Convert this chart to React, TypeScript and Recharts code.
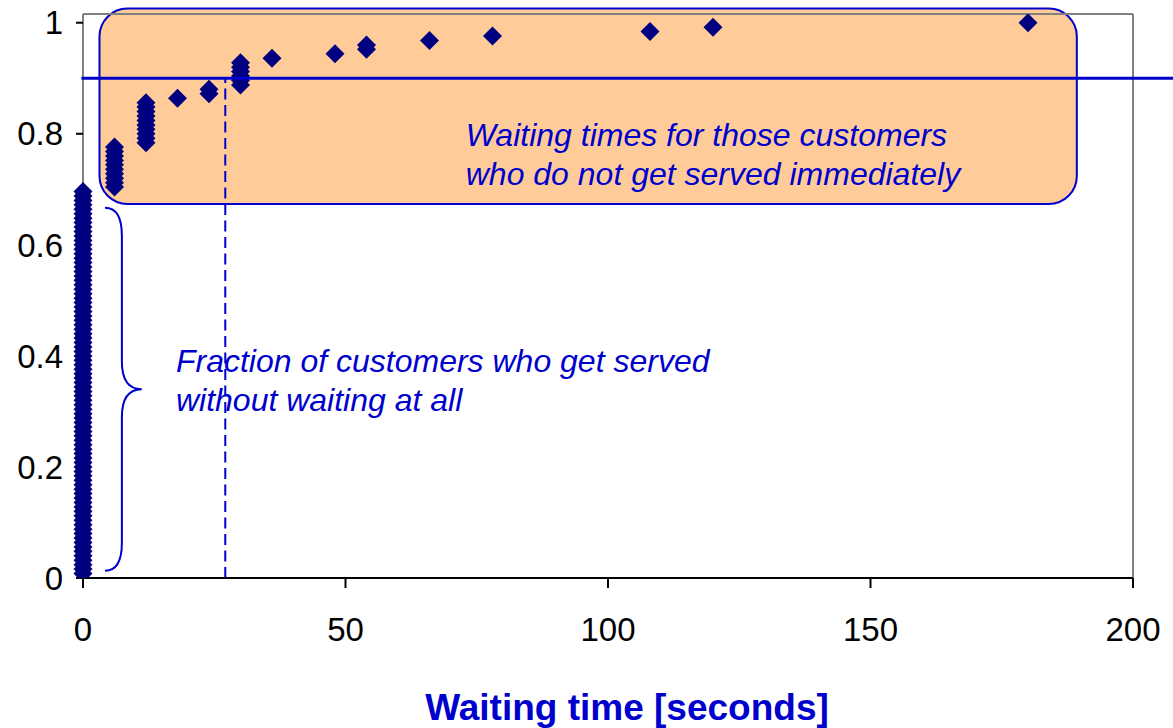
import {
  ScatterChart,
  Scatter,
  XAxis,
  YAxis,
  ReferenceArea,
  ReferenceLine,
  ReferenceDot,
  Label,
} from "recharts";

// waiting time (s) and how many customers waited that long
const waitSeconds = [0, 6, 12, 18, 24, 30, 36, 48, 54, 66, 78, 108, 120, 180];
const customerCounts = [87, 10, 10, 1, 2, 6, 1, 1, 2, 1, 1, 1, 1, 1];

const xTicks = [0, 50, 100, 150, 200];
const yTicks = [0, 0.2, 0.4, 0.6, 0.8, 1];
const Y_MAX = 1.0157;

const serviceLevel = 0.9;
const serviceTime = 27.1;

const BLUE = "#0000CC";
const NAVY = "#000080";
const FONT = "'Liberation Sans', Arial, sans-serif";

// empirical CDF: one diamond per customer, stacked at its waiting time
const totalCustomers = customerCounts.reduce((a, b) => a + b, 0);
const cdfPoints: { x: number; y: number }[] = [];
let served = 0;
waitSeconds.forEach((t, i) => {
  for (let k = 0; k < customerCounts[i]; k++) {
    served += 1;
    cdfPoints.push({ x: t, y: served / totalCustomers });
  }
});

const Diamond = (p: any) => {
  const { cx, cy } = p;
  const r = 9.5;
  return (
    <path
      d={`M${cx},${cy - r}L${cx + r},${cy}L${cx},${cy + r}L${cx - r},${cy}Z`}
      fill={NAVY}
    />
  );
};

const RoundedBox = (p: any) => (
  <rect
    x={p.x}
    y={p.y}
    width={p.width}
    height={p.height}
    rx={28}
    ry={28}
    fill="#FFCC99"
    stroke={BLUE}
    strokeWidth={2}
  />
);

const Brace = (p: any) => {
  const x0 = p.x;
  const x1 = p.x + p.width;
  const xv = x0 + p.width * 0.46;
  const y0 = p.y;
  const y1 = p.y + p.height;
  const ym = (y0 + y1) / 2;
  const r = 28;
  const d = `M${x0},${y0} Q${xv},${y0} ${xv},${y0 + r} L${xv},${ym - r} Q${xv},${ym} ${x1},${ym} Q${xv},${ym} ${xv},${ym + r} L${xv},${y1 - r} Q${xv},${y1} ${x0},${y1}`;
  return <path d={d} fill="none" stroke={BLUE} strokeWidth={2} />;
};

const noteText = (lines: string[]) => (p: any) => (
  <text
    x={p.cx}
    y={p.cy}
    fill={BLUE}
    fontSize={32}
    fontStyle="italic"
    fontFamily={FONT}
  >
    {lines.map((l, i) => (
      <tspan key={i} x={p.cx} dy={i === 0 ? 0 : 39}>
        {l}
      </tspan>
    ))}
  </text>
);

export default function App() {
  return (
    <div
      style={{
        position: "absolute",
        left: 0,
        top: 0,
        width: 1173,
        height: 728,
        background: "#fff",
      }}
    >
      <ScatterChart
        width={1173}
        height={728}
        margin={{ top: 14, right: 40, left: 0, bottom: 0 }}
      >
        <XAxis
          dataKey="x"
          type="number"
          domain={[0, 200]}
          ticks={xTicks}
          height={150}
          tickSize={10}
          tickMargin={30}
          axisLine={{ stroke: "#000", strokeWidth: 2 }}
          tickLine={{ stroke: "#000", strokeWidth: 2 }}
          tick={{ fill: "#000", fontSize: 33, fontFamily: FONT }}
        >
          <Label
            content={(props: any) => {
              const vb = props.viewBox;
              return (
                <text
                  x={vb.x + vb.width / 2 + 19}
                  y={vb.y + vb.height - 8}
                  textAnchor="middle"
                  fill={BLUE}
                  fontSize={37}
                  fontWeight="bold"
                  fontFamily={FONT}
                >
                  Waiting time [seconds]
                </text>
              );
            }}
          />
        </XAxis>
        <YAxis
          dataKey="y"
          type="number"
          domain={[0, Y_MAX]}
          allowDataOverflow
          ticks={yTicks}
          width={83}
          tickSize={7}
          tickMargin={13}
          axisLine={{ stroke: "#808080", strokeWidth: 2 }}
          tickLine={{ stroke: "#000", strokeWidth: 2 }}
          tick={{ fill: "#000", fontSize: 33, fontFamily: FONT }}
        />

        <ReferenceArea
          x1={3.14}
          x2={189.3}
          y1={0.6735}
          y2={1.0256}
          ifOverflow="visible"
          shape={RoundedBox}
          zIndex={100}
        />
        <ReferenceArea
          x1={4.19}
          x2={11.18}
          y1={0.013}
          y2={0.667}
          ifOverflow="visible"
          shape={Brace}
          zIndex={100}
        />
        <ReferenceLine
          y={Y_MAX}
          stroke="#808080"
          strokeWidth={2}
          zIndex={400}
        />
        <ReferenceLine
          x={200}
          stroke="#808080"
          strokeWidth={2}
          zIndex={400}
        />
        <ReferenceLine
          segment={[
            { x: serviceTime, y: 0 },
            { x: serviceTime, y: serviceLevel },
          ]}
          stroke={BLUE}
          strokeWidth={2}
          strokeDasharray="11 5.5"
          ifOverflow="visible"
          zIndex={400}
        />

        <Scatter
          data={cdfPoints}
          shape={Diamond}
          isAnimationActive={false}
          zIndex={600}
        />

        <ReferenceLine
          segment={[
            { x: -0.3, y: serviceLevel },
            { x: 208, y: serviceLevel },
          ]}
          stroke={BLUE}
          strokeWidth={3}
          ifOverflow="visible"
          zIndex={700}
        />
        <ReferenceDot
          x={72.9}
          y={0.778}
          ifOverflow="visible"
          zIndex={800}
          shape={noteText([
            "Waiting times for those customers",
            "who do not get served immediately",
          ])}
        />
        <ReferenceDot
          x={17.7}
          y={0.371}
          ifOverflow="visible"
          zIndex={800}
          shape={noteText([
            "Fraction of customers who get served",
            "without waiting at all",
          ])}
        />
      </ScatterChart>
    </div>
  );
}
